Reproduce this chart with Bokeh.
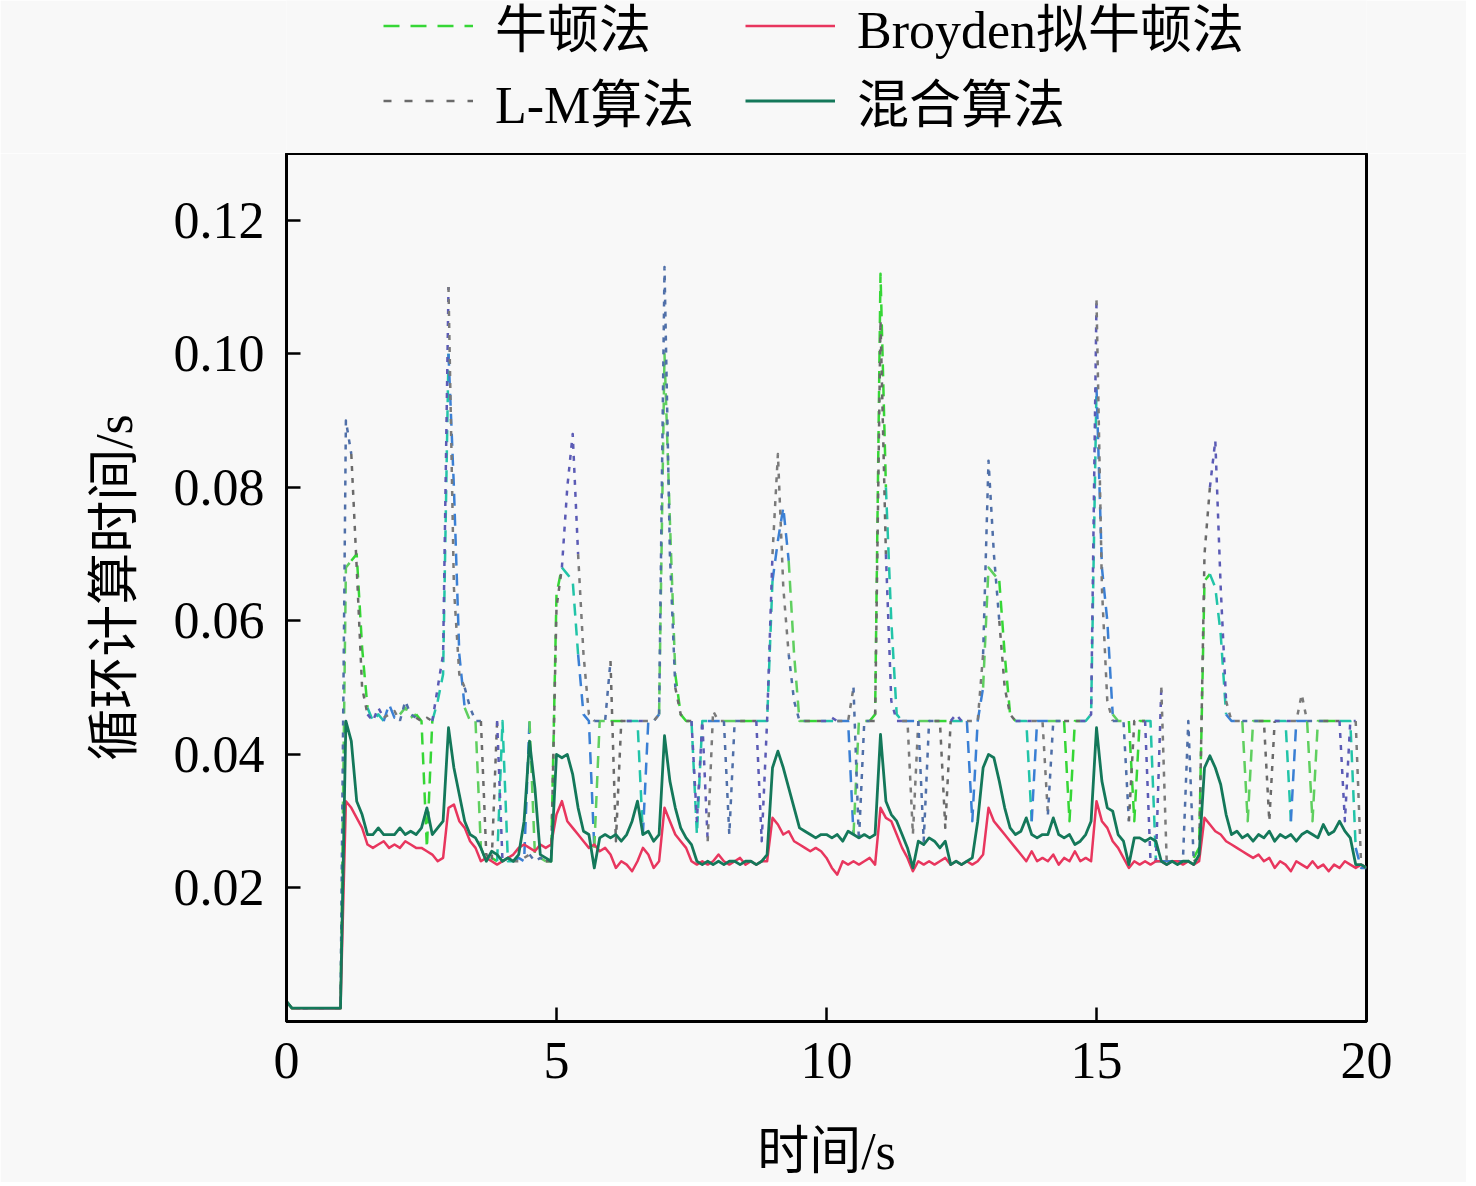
import numpy as np
from bokeh.plotting import figure
from bokeh.layouts import column
from bokeh.models import (Legend, LegendItem, FixedTicker, NumeralTickFormatter,
                          Range1d, ColumnDataSource)
from bokeh.embed import file_html
from bokeh.resources import INLINE

# time grid (s), sampled every 0.1 s
TIME = np.round(np.arange(201) * 0.1, 1)

# loop computing time per method, in milliseconds
NEWTON_MS = [
    3, 2, 2, 2, 2, 2, 2, 2, 2, 2,
    2, 68, 69, 70, 56, 47, 45, 46, 45, 47.5,
    45.5, 46, 47, 45.5, 46, 45, 26, 45, 48, 52,
    100, 80, 55, 47, 45, 45, 26, 24, 24.5, 24,
    45, 24, 24, 24.5, 24, 45, 25, 24.5, 24, 24,
    64, 68, 67, 66, 55, 46, 45, 26, 45, 45,
    45, 45, 45, 45, 45, 45, 28, 45, 45, 46,
    100, 75, 52, 46, 45, 45, 28, 45, 45, 45,
    45, 45, 45, 45, 45, 45, 45, 45, 45, 45,
    66, 72, 77, 69, 55, 45, 45, 45, 45, 45,
    45, 45, 45, 45, 45, 28, 45, 45, 45, 46,
    112, 80, 60, 46, 45, 45, 45, 45, 45, 45,
    45, 45, 45, 45, 45, 45, 45, 30, 45, 50,
    68, 67, 66, 55, 46, 45, 45, 45, 30, 45,
    45, 45, 45, 45, 45, 30, 45, 45, 45, 46,
    95, 68, 60, 46, 45, 45, 45, 30, 45, 45,
    45, 24, 24, 24, 24, 24, 24, 24, 24.5, 26,
    66, 67, 65, 58, 46, 45, 45, 45, 30, 45,
    45, 45, 45, 45, 45, 45, 30, 45, 45, 45,
    30, 45, 45, 45, 45, 45, 45, 45, 26, 23,
    23,
]

LM_MS = [
    3, 2, 2, 2, 2, 2, 2, 2, 2, 2,
    2, 90, 85, 68, 50, 46, 45, 47, 45.5, 46,
    46.5, 45, 48, 46, 45.5, 45, 45.5, 45, 50, 55,
    110, 65, 52, 50, 47, 45, 45, 25, 24, 45,
    24, 24.5, 24, 24, 24.5, 25, 24, 24.5, 24, 24,
    62, 68, 80, 88, 70, 55, 46, 45, 45, 45,
    54, 27, 45, 45, 45, 45, 45, 45, 45, 46,
    113, 70, 50, 46, 45, 45, 30, 45, 27, 46.5,
    45, 45, 28, 45, 45, 45, 45, 45, 27, 45,
    70, 85, 65, 55, 48, 45, 45, 45, 45, 45,
    45, 45.5, 45, 45, 45, 50, 27, 45, 45, 45,
    105, 70, 48, 45, 45, 45, 28, 45, 27, 45,
    45, 45, 29, 45, 46, 45, 45, 45, 45, 55,
    84, 70, 60, 50, 46, 45, 45, 45, 45, 45,
    45, 31, 45, 45, 45, 45, 45, 45, 45, 46,
    108, 65, 48, 45, 45, 45, 30, 45, 45, 45,
    24, 24, 50, 24, 24, 24, 24, 45, 24, 24.5,
    70, 80, 87, 65, 48, 45, 45, 45, 45, 45,
    45, 45, 30, 45, 45, 45, 45, 45, 49, 45,
    45, 45, 45, 45, 45, 45, 30, 45, 45, 23.5,
    23,
]

BROYDEN_MS = [
    3, 2, 2, 2, 2, 2, 2, 2, 2, 2,
    2, 33, 32, 30.5, 29, 26.5, 26, 26.5, 27, 26,
    26.5, 26, 27, 26.5, 26, 26, 25.5, 25, 24, 24.5,
    32, 32.5, 30, 29, 27, 26, 24, 24.5, 24, 23.5,
    24, 24.5, 25, 26, 26.5, 26, 25.5, 26.5, 26, 26.5,
    31, 33, 30, 29, 28, 27, 26, 26.5, 25.5, 26,
    25, 23, 24, 23.5, 22.5, 24, 26, 25, 23, 24,
    32, 30, 28, 27, 26, 24, 23.5, 24, 23.5, 24,
    25, 24, 23.5, 24, 24.5, 23.5, 24, 23.5, 24, 24,
    30.5, 29.5, 28, 28.5, 27, 26.5, 26, 25.5, 26, 25.5,
    24.5, 23, 22, 24, 23.5, 24, 23.5, 24, 24.5, 23.5,
    32, 30.5, 30, 28, 26, 24.5, 22.5, 24, 23.5, 24,
    23.5, 24, 24.5, 23.5, 24, 23.5, 24, 23.5, 24, 25,
    32, 30, 29, 28, 27, 26, 25, 24, 25.5, 24,
    24.5, 24, 25, 23.5, 24.5, 24, 25.5, 24, 24.5, 24,
    33, 30, 29, 27, 26, 24.5, 23, 24, 23.5, 24,
    23.5, 24, 24, 23.5, 24, 24, 23.5, 24, 23.5, 24,
    30.5, 29.5, 28.5, 28, 27, 26.5, 26, 25.5, 25, 24.5,
    25, 24, 24.5, 23, 24, 23.5, 22.5, 24, 23.5, 23,
    24, 23, 23.5, 22.5, 23.5, 23, 24, 23.5, 23, 23.5,
    23,
]

HYBRID_MS = [
    3, 2, 2, 2, 2, 2, 2, 2, 2, 2,
    2, 45, 42, 33, 31, 28, 28, 29, 28, 28,
    28, 29, 28, 28.5, 28, 29, 32, 28, 29, 30,
    44, 38, 34, 30, 28, 27.5, 26, 24, 25.5, 25,
    24, 24.5, 24, 25, 30, 42, 35, 25, 24.5, 24,
    40, 39.5, 40, 37, 32, 28.5, 28, 23, 27.5, 28,
    27.5, 28, 27, 28, 30, 33, 28, 28.5, 27, 28,
    42.8, 36, 32, 29, 27.5, 26.5, 24, 23.5, 24, 23.5,
    24, 23.5, 24, 24, 23.5, 24, 24, 23.5, 24, 25,
    38, 40.5, 38, 35, 32, 29, 28.5, 28, 27.5, 28,
    28, 27.5, 28, 27, 28.5, 28, 27.5, 28, 27.5, 28,
    43, 33, 31, 30, 28, 26, 23, 27, 26.5, 27.5,
    27, 26, 27, 23.5, 24, 23.5, 24, 24.5, 30, 38,
    40, 39.5, 36, 32, 29, 28, 28.5, 30.5, 28, 27.5,
    28, 28, 30.5, 28, 27.5, 28, 26.5, 27, 28, 30,
    44, 36, 32, 31.5, 28, 27, 23.5, 27.5, 27.5, 27,
    27.5, 27, 24, 23.5, 24, 23.5, 24, 24, 23.5, 25,
    38, 39.8, 38, 35.5, 31, 28, 28.5, 27.5, 28, 27,
    28, 27.5, 28.5, 27, 28, 27.5, 28, 27, 28, 28.5,
    28, 27.5, 29.5, 28, 28.5, 30, 28.5, 27.5, 23.5, 23.5,
    23,
]

X_TICKS = [0, 5, 10, 15, 20]
Y_TICKS = [0.02, 0.04, 0.06, 0.08, 0.10, 0.12]
LABELS = ["牛顿法", "Broyden拟牛顿法", "L-M算法", "混合算法"]

for arr in (NEWTON_MS, LM_MS, BROYDEN_MS, HYBRID_MS):
    assert len(arr) == len(TIME), len(arr)


def to_s(a):
    return np.array(a, dtype=float) / 1000.0


def chunked(t, y, k, palette):
    """Split a series into consecutive overlapping pieces for multi-coloured drawing."""
    xs, ys, cs = [], [], []
    j = 0
    for i in range(0, len(t) - 1, k):
        xs.append(list(t[i:i + k + 1]))
        ys.append(list(y[i:i + k + 1]))
        cs.append(palette[j % len(palette)])
        j += 1
    return ColumnDataSource(dict(xs=xs, ys=ys, c=cs))


FONT = "'Liberation Serif', 'Noto Sans CJK SC'"
BG = "#f8f8f8"
C_NEWTON = ["#36d636", "#22c4a8", "#3a7fd4", "#5fcf5f"]
C_LM = ["#6a6a6a", "#5b5bb5", "#7a7a7a", "#4f6fa8"]
C_BROYDEN = "#e8365e"
C_HYBRID = "#14785a"
DASH_NEWTON = "12 8"
DASH_LM = "5 7"

p = figure(frame_width=1080, frame_height=868,
           x_range=Range1d(0, 20), y_range=Range1d(0, 0.13),
           output_backend="svg", toolbar_location=None,
           min_border_left=286, min_border_right=100,
           min_border_top=0, min_border_bottom=157,
           background_fill_color=BG, border_fill_color=BG)

p.grid.visible = False
p.outline_line_color = "black"
p.outline_line_width = 3

p.xaxis.ticker = FixedTicker(ticks=X_TICKS)
p.yaxis.ticker = FixedTicker(ticks=Y_TICKS)
p.yaxis.formatter = NumeralTickFormatter(format="0.00")

for ax in (p.xaxis[0], p.yaxis[0]):
    ax.axis_line_width = 3
    ax.axis_line_color = "black"
    ax.major_tick_in = 14
    ax.major_tick_out = 0
    ax.major_tick_line_width = 2.5
    ax.minor_tick_line_color = None
    ax.major_label_text_font = FONT
    ax.major_label_text_font_size = "52px"
    ax.major_label_text_color = "black"
    ax.axis_label_text_font = FONT
    ax.axis_label_text_font_size = "52px"
    ax.axis_label_text_font_style = "normal"
    ax.axis_label_text_color = "black"

p.xaxis.axis_label = "时间/s"
p.yaxis.axis_label = "循环计算时间/s"
p.xaxis.major_label_standoff = 21
p.yaxis.major_label_standoff = 22
p.xaxis.axis_label_standoff = 42
p.yaxis.axis_label_standoff = 28

t = TIME
p.multi_line("xs", "ys", source=chunked(t, to_s(NEWTON_MS), 3, C_NEWTON),
             line_color="c", line_width=2.5, line_dash=DASH_NEWTON, line_join="round")
p.multi_line("xs", "ys", source=chunked(t, to_s(LM_MS), 3, C_LM),
             line_color="c", line_width=2.5, line_dash=DASH_LM, line_join="round")
p.line(t, to_s(BROYDEN_MS), line_color=C_BROYDEN, line_width=2.5, line_join="round")
p.line(t, to_s(HYBRID_MS), line_color=C_HYBRID, line_width=2.8, line_join="round")

# legend strip above the plot frame (its sample lines lie outside its visible range)
leg = figure(frame_width=1080, frame_height=153,
             x_range=Range1d(0, 1), y_range=Range1d(0, 1),
             output_backend="svg", toolbar_location=None,
             min_border_left=286, min_border_right=100,
             min_border_top=0, min_border_bottom=0,
             background_fill_color=BG, border_fill_color=BG,
             outline_line_color=None)
leg.axis.visible = False
leg.grid.visible = False
HIDDEN_X = [0.0, 1.0]
HIDDEN_Y = [-5.0, -5.0]
g_newton = leg.line(HIDDEN_X, HIDDEN_Y, line_color=C_NEWTON[0], line_width=2.5, line_dash="16 11")
g_broyden = leg.line(HIDDEN_X, HIDDEN_Y, line_color=C_BROYDEN, line_width=2.5)
g_lm = leg.line(HIDDEN_X, HIDDEN_Y, line_color=C_LM[0], line_width=2.5, line_dash="8 13")
g_hybrid = leg.line(HIDDEN_X, HIDDEN_Y, line_color=C_HYBRID, line_width=2.8)

legend = Legend(items=[
    LegendItem(label=LABELS[0], renderers=[g_newton]),
    LegendItem(label=LABELS[2], renderers=[g_lm]),
    LegendItem(label=LABELS[1], renderers=[g_broyden]),
    LegendItem(label=LABELS[3], renderers=[g_hybrid]),
], ncols=2, location=(97, 15))
legend.label_text_font = FONT
legend.label_text_font_size = "52px"
legend.label_text_color = "black"
legend.glyph_width = 90
legend.glyph_height = 75
legend.label_height = 75
legend.label_width = 250
legend.label_standoff = 22
legend.spacing = 0
legend.padding = 0
legend.margin = 0
legend.border_line_color = None
legend.background_fill_alpha = 0
leg.add_layout(legend)

layout = column(leg, p, spacing=0)
open("out.html", "w").write(file_html(layout, INLINE))
